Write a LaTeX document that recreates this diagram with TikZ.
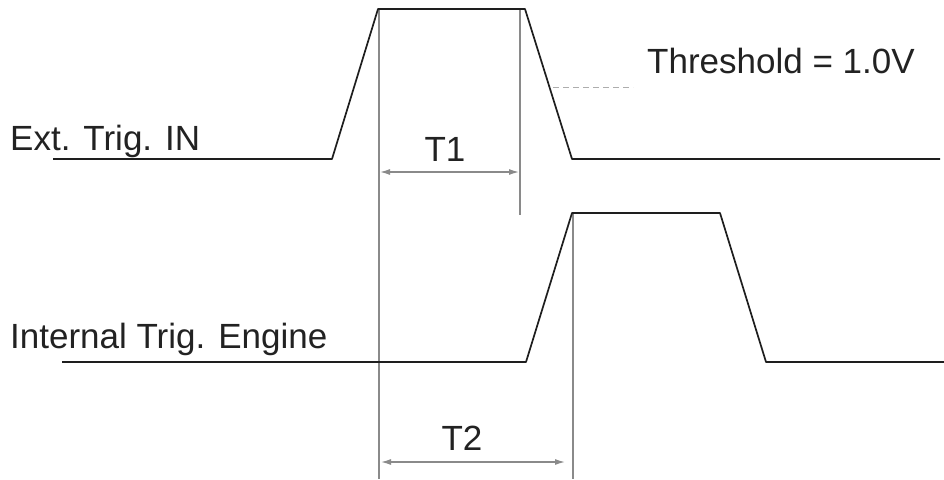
\documentclass[tikz,border=0pt]{standalone}
\usepackage{fontspec}
\setmainfont{Liberation Sans}
\usetikzlibrary{arrows.meta}
\definecolor{sig}{HTML}{1E1E1E}
\definecolor{guide}{HTML}{8A8A8A}
\definecolor{txt}{HTML}{222222}
\tikzset{
  signal/.style={draw=sig, line width=1.7pt, line join=round},
  guideline/.style={draw=guide, line width=1.3pt},
  dimarrow/.style={draw=guide, line width=1.3pt, {Latex[length=10pt,width=6pt]}-{Latex[length=10pt,width=6pt]}},
  thresh/.style={draw=guide!70, line width=1pt, dash pattern=on 6pt off 4pt},
  lbl/.style={inner sep=0pt, text=txt, font=\fontsize{35}{40}\selectfont}
}
\begin{document}
\begin{tikzpicture}[x=1pt,y=-1pt]
\useasboundingbox (0,0) rectangle (944,479);
% signal 1 corners
\coordinate (a0) at (53,159);
\coordinate (a1) at (332,159);
\coordinate (a2) at (378,9);
\coordinate (a3) at (525,9);
\coordinate (a4) at (572,159);
\coordinate (a5) at (940,159);
% signal 2 corners
\coordinate (b0) at (62,362);
\coordinate (b1) at (526,362);
\coordinate (b2) at (572,213);
\coordinate (b3) at (720,213);
\coordinate (b4) at (766,362);
\coordinate (b5) at (944,362);
% guide line ends
\coordinate (g1t) at (379,9);
\coordinate (g1b) at (379,479);
\coordinate (g2t) at (520,9);
\coordinate (g2b) at (520,215);
\coordinate (g3t) at (573,213);
\coordinate (g3b) at (573,479);
\coordinate (t1l) at (380,172);
\coordinate (t1r) at (519,172);
\coordinate (t2l) at (381,462);
\coordinate (t2r) at (565,462);
\coordinate (th0) at (553,87);
\coordinate (th1) at (633,87);

% guides
\draw[guideline] (g1t) -- (g1b);
\draw[guideline] (g2t) -- (g2b);
\draw[guideline] (g3t) -- (g3b);
\draw[dimarrow] (t1l) -- (t1r);
\draw[dimarrow] (t2l) -- (t2r);
\draw[thresh] (th0) -- (th1);

% signals
\draw[signal] (a0) -- (a1) -- (a2) -- (a3) -- (a4) -- (a5);
\draw[signal] (b0) -- (b1) -- (b2) -- (b3) -- (b4) -- (b5);

% labels
\node[lbl, anchor=base west] (ext) at (10,150) {Ext. Trig. IN};
\node[lbl, anchor=base west] (int) at (10,348) {Internal Trig. Engine};
\node[lbl, anchor=base west] (thr) at (647,73) {Threshold = 1.0V};
\node[lbl, anchor=base] (T1) at (445,161) {T1};
\node[lbl, anchor=base] (T2) at (462,450) {T2};
\end{tikzpicture}
\end{document}
